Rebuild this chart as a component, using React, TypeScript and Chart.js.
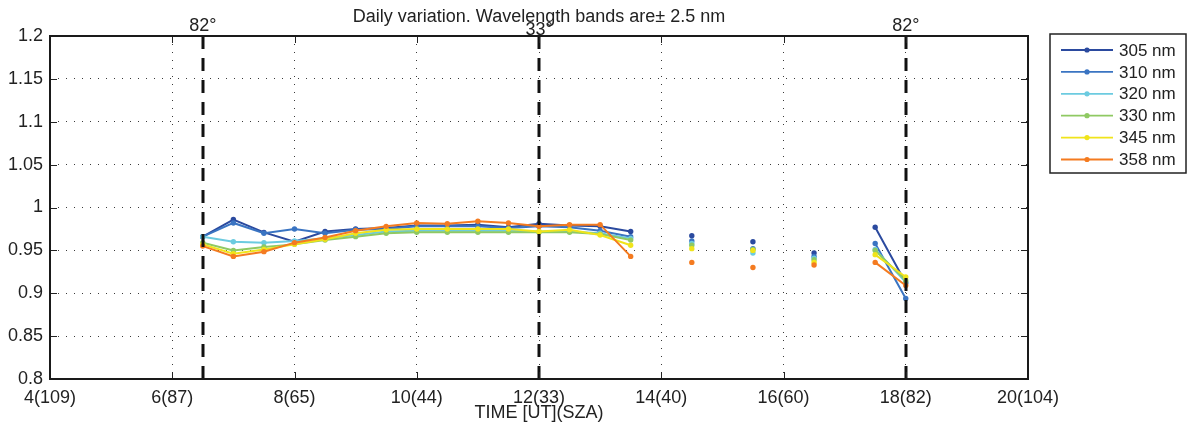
import React, { useEffect, useRef } from "react";
import { Chart, registerables } from "chart.js";

Chart.register(...registerables);

// ---------- data ----------
const times = [6.5, 7, 7.5, 8, 8.5, 9, 9.5, 10, 10.5, 11, 11.5, 12, 12.5, 13, 13.5, 14, 14.5, 15, 15.5, 16, 16.5, 17, 17.5, 18];

const nm305 = [0.966, 0.986, 0.971, 0.960, 0.972, 0.975, 0.976, 0.979, 0.979, 0.980, 0.977, 0.981, 0.979, 0.978, 0.972, null, 0.967, null, 0.960, null, 0.947, null, 0.977, 0.912];
const nm310 = [0.966, 0.982, 0.970, 0.975, 0.970, 0.974, 0.975, 0.978, 0.978, 0.978, 0.976, 0.978, 0.977, 0.973, 0.966, null, 0.961, null, 0.952, null, 0.943, null, 0.958, 0.894];
const nm320 = [0.966, 0.960, 0.959, 0.961, 0.964, 0.968, 0.972, 0.973, 0.973, 0.973, 0.973, 0.972, 0.972, 0.970, 0.964, null, 0.958, null, 0.947, null, 0.941, null, 0.951, 0.913];
const nm330 = [0.959, 0.950, 0.954, 0.957, 0.962, 0.966, 0.970, 0.971, 0.971, 0.971, 0.971, 0.971, 0.971, 0.969, 0.962, null, 0.956, null, 0.951, null, 0.939, null, 0.950, 0.915];
const nm345 = [0.957, 0.946, 0.951, 0.957, 0.963, 0.970, 0.974, 0.975, 0.975, 0.975, 0.975, 0.972, 0.974, 0.968, 0.956, null, 0.952, null, 0.950, null, 0.936, null, 0.945, 0.919];
const nm358 = [0.955, 0.943, 0.9485, 0.959, 0.965, 0.973, 0.978, 0.982, 0.981, 0.984, 0.982, 0.978, 0.980, 0.980, 0.943, null, 0.936, null, 0.930, null, 0.933, null, 0.936, 0.909];

const seriesValues = [nm305, nm310, nm320, nm330, nm345, nm358];
const seriesLabels = ["305 nm", "310 nm", "320 nm", "330 nm", "345 nm", "358 nm"];
const seriesColors = ["#2b4a9f", "#3a74c2", "#6ccbe0", "#8fc963", "#f0e41b", "#f47b20"];

const xTickValues = [4, 6, 8, 10, 12, 14, 16, 18, 20];
const xTickLabels = ["4(109)", "6(87)", "8(65)", "10(44)", "12(33)", "14(40)", "16(60)", "18(82)", "20(104)"];
const yTickValues = [0.8, 0.85, 0.9, 0.95, 1.0, 1.05, 1.1, 1.15, 1.2];
const yTickLabels = ["0.8", "0.85", "0.9", "0.95", "1", "1.05", "1.1", "1.15", "1.2"];

const markerTimes = [6.5, 12, 18];
const markerLabels = ["82°", "33°", "82°"];

const titleText = "Daily variation. Wavelength bands are\u00b1 2.5 nm";
const xAxisTitle = "TIME [UT](SZA)";

// ---------- style ----------
const FONT = "'Liberation Sans', Arial, Helvetica, sans-serif";
const TEXT = "#222222";
const markerLabelBaselines = [31, 35, 31];

const overlayPlugin = {
  id: "matlabOverlay",
  afterDatasetsDraw(chart: any) {
    const { ctx, chartArea } = chart;
    const { left, right, top, bottom } = chartArea;
    const xs = chart.scales.x;
    const ys = chart.scales.y;
    ctx.save();

    // dashed vertical marker lines
    ctx.strokeStyle = "#111111";
    ctx.lineWidth = 3;
    ctx.setLineDash([13, 9]);
    markerTimes.forEach((t) => {
      const px = Math.round(xs.getPixelForValue(t));
      ctx.beginPath();
      ctx.moveTo(px, top);
      ctx.lineTo(px, bottom);
      ctx.stroke();
    });
    ctx.setLineDash([]);

    // inward ticks
    ctx.strokeStyle = "#222222";
    ctx.lineWidth = 1;
    const tl = 7;
    xTickValues.forEach((v) => {
      const px = Math.round(xs.getPixelForValue(v)) + 0.5;
      ctx.beginPath();
      ctx.moveTo(px, bottom);
      ctx.lineTo(px, bottom - tl);
      ctx.moveTo(px, top);
      ctx.lineTo(px, top + tl);
      ctx.stroke();
    });
    yTickValues.forEach((v) => {
      const py = Math.round(ys.getPixelForValue(v)) + 0.5;
      ctx.beginPath();
      ctx.moveTo(left, py);
      ctx.lineTo(left + tl, py);
      ctx.moveTo(right, py);
      ctx.lineTo(right - tl, py);
      ctx.stroke();
    });

    // axes box
    ctx.lineWidth = 2;
    ctx.strokeStyle = "#1a1a1a";
    ctx.strokeRect(left, top, right - left, bottom - top);

    // title
    ctx.fillStyle = TEXT;
    ctx.font = `18px ${FONT}`;
    ctx.textAlign = "center";
    ctx.textBaseline = "alphabetic";
    ctx.fillText(titleText, (left + right) / 2, 22);

    // marker labels
    markerTimes.forEach((t, i) => {
      const px = xs.getPixelForValue(t);
      ctx.fillText(markerLabels[i], px, markerLabelBaselines[i]);
    });

    // legend
    const lx = 1050, ly = 34, lw = 136, lh = 139;
    ctx.fillStyle = "#ffffff";
    ctx.fillRect(lx, ly, lw, lh);
    ctx.lineWidth = 1.5;
    ctx.strokeStyle = "#222222";
    ctx.strokeRect(lx, ly, lw, lh);
    ctx.font = `17px ${FONT}`;
    ctx.textAlign = "left";
    ctx.textBaseline = "middle";
    seriesLabels.forEach((lab, i) => {
      const y = ly + 16 + i * 21.9;
      ctx.strokeStyle = seriesColors[i];
      ctx.lineWidth = 1.8;
      ctx.beginPath();
      ctx.moveTo(lx + 11, y);
      ctx.lineTo(lx + 63, y);
      ctx.stroke();
      ctx.fillStyle = seriesColors[i];
      ctx.beginPath();
      ctx.arc(lx + 37, y, 2.6, 0, Math.PI * 2);
      ctx.fill();
      ctx.fillStyle = TEXT;
      ctx.fillText(lab, lx + 69, y + 1);
    });

    ctx.restore();
  },
};

export default function App() {
  const ref = useRef<HTMLCanvasElement | null>(null);

  useEffect(() => {
    document.body.style.margin = "0";
    const canvas = ref.current;
    if (!canvas) return;

    const datasets = seriesValues.map((vals, i) => ({
      label: seriesLabels[i],
      data: times.map((t, j) => ({ x: t, y: vals[j] })),
      borderColor: seriesColors[i],
      backgroundColor: seriesColors[i],
      pointBackgroundColor: seriesColors[i],
      pointBorderColor: seriesColors[i],
      pointBorderWidth: 0,
      pointRadius: 2.7,
      borderWidth: 2,
      tension: 0,
      spanGaps: false,
      order: seriesValues.length - i,
    }));

    const chart = new Chart(canvas, {
      type: "line",
      data: { datasets },
      plugins: [overlayPlugin],
      options: {
        responsive: false,
        animation: false,
        devicePixelRatio: 1,
        layout: { padding: { top: 36, right: 162, left: 0, bottom: 0 } },
        plugins: {
          legend: { display: false },
          title: { display: false },
          tooltip: { enabled: false },
        },
        scales: {
          x: {
            type: "linear",
            min: 4,
            max: 20,
            afterBuildTicks: (s: any) => {
              s.ticks = xTickValues.map((v) => ({ value: v }));
            },
            afterFit: (s: any) => {
              s.height = 53;
            },
            ticks: {
              autoSkip: false,
              maxRotation: 0,
              padding: 8,
              color: TEXT,
              font: { family: FONT, size: 18 },
              callback: (v: any) => {
                const k = xTickValues.indexOf(Number(v));
                return k >= 0 ? xTickLabels[k] : "";
              },
            },
            grid: { color: "#3a3a3a", lineWidth: 1, drawTicks: false },
            border: { display: false, dash: [1, 7] },
            title: {
              display: true,
              text: xAxisTitle,
              color: TEXT,
              font: { family: FONT, size: 18 },
              padding: { top: 0, bottom: 8 },
            },
          },
          y: {
            type: "linear",
            min: 0.8,
            max: 1.2,
            afterBuildTicks: (s: any) => {
              s.ticks = yTickValues.map((v) => ({ value: v }));
            },
            afterFit: (s: any) => {
              s.width = 50;
            },
            ticks: {
              padding: 7,
              color: TEXT,
              font: { family: FONT, size: 18 },
              callback: (v: any, i: number) => yTickLabels[i] ?? "",
            },
            grid: { color: "#3a3a3a", lineWidth: 1, drawTicks: false },
            border: { display: false, dash: [1, 7] },
          },
        },
      } as any,
    });

    return () => chart.destroy();
  }, []);

  return (
    <div style={{ width: 1190, height: 432 }}>
      <canvas ref={ref} width={1190} height={432} style={{ display: "block", width: 1190, height: 432 }} />
    </div>
  );
}
